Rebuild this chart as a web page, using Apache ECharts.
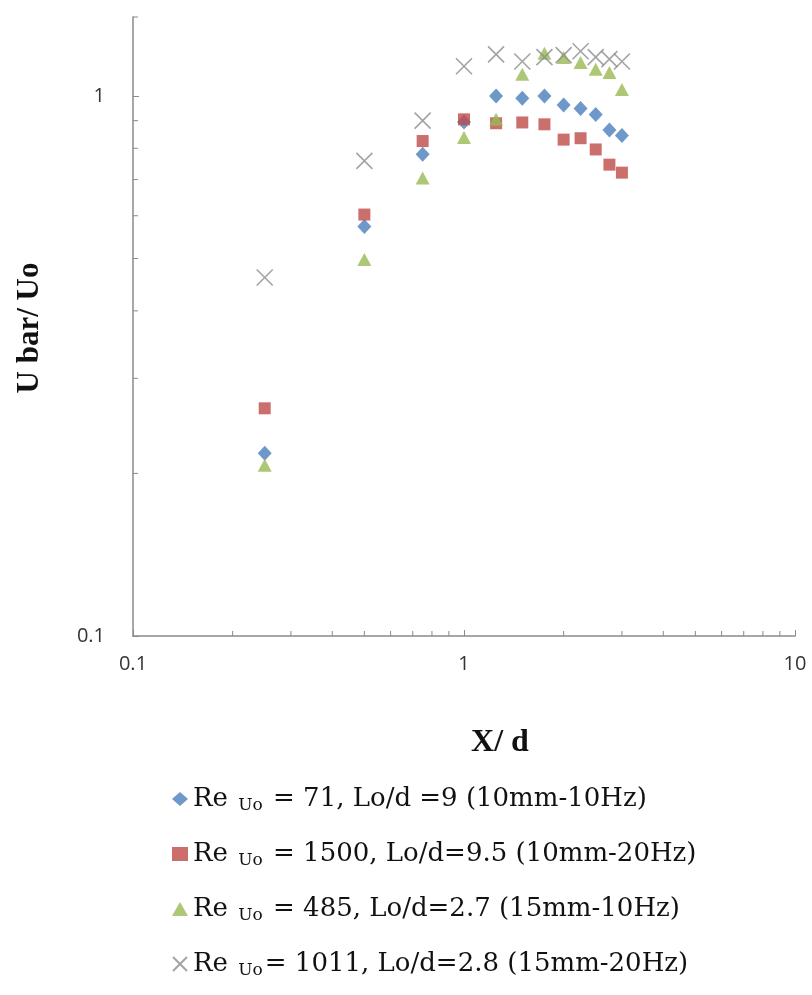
<!DOCTYPE html>
<html>
<head>
<meta charset="utf-8">
<script src="https://cdn.jsdelivr.net/npm/echarts@6/dist/echarts.min.js"></script>
<style>html,body{margin:0;padding:0;background:#fff}#c{width:812px;height:995px}</style>
</head>
<body>
<div id="c"></div>
<script>
var xVals = [0.25, 0.5, 0.75, 1, 1.25, 1.5, 1.75, 2, 2.25, 2.5, 2.75, 3];
var blueVals = [0.218, 0.573, 0.78, 0.895, 1.0, 0.99, 1.0, 0.962, 0.948, 0.924, 0.865, 0.845];
var redVals = [0.264, 0.603, 0.825, 0.905, 0.89, 0.893, 0.886, 0.83, 0.835, 0.796, 0.746, 0.721];
var greenVals = [0.207, 0.498, 0.705, 0.838, 0.905, 1.097, 1.2, 1.178, 1.153, 1.12, 1.105, 1.028];
var grayVals = [0.461, 0.758, 0.9, 1.135, 1.194, 1.158, 1.18, 1.19, 1.21, 1.18, 1.17, 1.158];
var seriesNames = [
  'Re Uo = 71, Lo/d =9 (10mm-10Hz)',
  'Re Uo = 1500, Lo/d=9.5 (10mm-20Hz)',
  'Re Uo = 485, Lo/d=2.7 (15mm-10Hz)',
  'Re Uo= 1011, Lo/d=2.8 (15mm-20Hz)'
];
var xMinorTicks = [0.2, 0.3, 0.4, 0.5, 0.6, 0.7, 0.8, 0.9, 2, 3, 4, 5, 6, 7, 8, 9];
var yMinorTicks = [0.2, 0.3, 0.4, 0.5, 0.6, 0.7, 0.8, 0.9, 1.4];
var xMin = 0.1, xMax = 10, yMin = 0.1, yMax = 1.4;

function pairs(ys) { return xVals.map(function (x, i) { return [x, ys[i]]; }); }

var chart = echarts.init(document.getElementById('c'), null, { renderer: 'canvas' });
var axisColor = '#8a8a8a';
var serif = '"Liberation Serif", "DejaVu Serif", serif';
var wideSerif = '"DejaVu Serif", "Liberation Serif", serif';
var labelFont = '"Open Sans", sans-serif';

function legendFmt(name) {
  var rest = name.replace(/^Re Uo/, '');
  return '{a|Re }{b|Uo}{a|' + rest + '}';
}
function tickFmt(v) { return v < 1 ? String(v) : String(Math.round(v)); }

var option = {
  animation: false,
  backgroundColor: '#fff',
  grid: { left: 133, top: 17, right: 17, bottom: 359, containLabel: false },
  xAxis: {
    type: 'log', logBase: 10, min: xMin, max: xMax,
    axisLine: { lineStyle: { color: axisColor, width: 1.5 } },
    axisTick: { inside: true, length: 6, lineStyle: { color: axisColor } },
    splitLine: { show: false },
    axisLabel: { margin: 18, color: '#333', fontSize: 20, fontFamily: labelFont, formatter: tickFmt }
  },
  yAxis: {
    type: 'log', logBase: 10, min: yMin, max: yMax,
    axisLine: { lineStyle: { color: axisColor, width: 1.5 } },
    axisTick: { inside: true, length: 6, lineStyle: { color: axisColor } },
    splitLine: { show: false },
    axisLabel: { margin: 28, color: '#333', fontSize: 20, fontFamily: labelFont,
      showMaxLabel: false, formatter: tickFmt }
  },
  legend: {
    orient: 'vertical', left: 167, top: 781, itemGap: 27,
    itemWidth: 16, itemHeight: 14,
    data: seriesNames,
    formatter: legendFmt,
    textStyle: {
      color: '#111',
      rich: {
        a: { fontFamily: wideSerif, fontSize: 26, color: '#111', lineHeight: 30 },
        b: { fontFamily: wideSerif, fontSize: 17, color: '#111', lineHeight: 30, verticalAlign: 'bottom', padding: [9, 2, 0, 2] }
      }
    }
  },
  graphic: [
    { type: 'text', x: 500, y: 743, style: { text: 'X/ d', font: 'bold 32px ' + serif, fill: '#111', align: 'center', verticalAlign: 'middle' } },
    { type: 'text', x: 30, y: 328, rotation: Math.PI / 2,
      style: { text: 'U bar/ Uo', font: 'bold 31px ' + serif, fill: '#111', align: 'center', verticalAlign: 'middle' } }
  ],
  series: [
    { name: seriesNames[0], type: 'scatter', data: pairs(blueVals), symbol: 'diamond', symbolSize: [14, 15],
      itemStyle: { color: '#4a7ebb' } },
    { name: seriesNames[1], type: 'scatter', data: pairs(redVals), symbol: 'rect', symbolSize: 12,
      itemStyle: { color: '#be4b48' } },
    { name: seriesNames[2], type: 'scatter', data: pairs(greenVals), symbol: 'triangle', symbolSize: [14, 13],
      itemStyle: { color: '#98b954' } },
    { name: seriesNames[3], type: 'scatter', data: pairs(grayVals), symbol: 'path://M0,0L10,10M10,0L0,10', symbolSize: 16,
      itemStyle: { color: 'rgba(0,0,0,0)', borderColor: '#8c8c8c', borderWidth: 1.6 } },
    { type: 'custom', silent: true, clip: false, data: xMinorTicks.map(function (v) { return [v, yMin]; }),
      renderItem: function (params, api) {
        var p = api.coord([api.value(0), api.value(1)]);
        return { type: 'line', shape: { x1: p[0], y1: p[1], x2: p[0], y2: p[1] - 5 }, style: { stroke: axisColor, lineWidth: 1 } };
      } },
    { type: 'custom', silent: true, clip: false, data: yMinorTicks.map(function (v) { return [xMin, v]; }),
      renderItem: function (params, api) {
        var p = api.coord([api.value(0), api.value(1)]);
        return { type: 'line', shape: { x1: p[0], y1: p[1], x2: p[0] + 5, y2: p[1] }, style: { stroke: axisColor, lineWidth: 1 } };
      } }
  ]
};
chart.setOption(option);
</script>
</body>
</html>
